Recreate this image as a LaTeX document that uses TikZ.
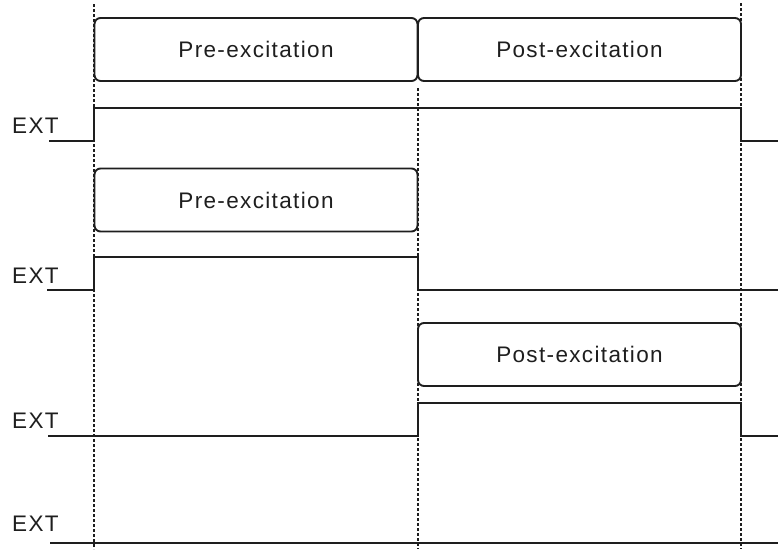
\documentclass[tikz,border=0pt]{standalone}
\usepackage{fontspec}
\setmainfont{Liberation Sans}[LetterSpace=6]
\definecolor{ink}{HTML}{1E1E1E}
\begin{document}
\begin{tikzpicture}[x=1pt,y=-1pt,
  phase/.style={draw=ink, line width=1.9pt, rounded corners=6pt, inner sep=0pt,
    minimum height=63pt, text=ink, font=\fontsize{22.5}{26}\selectfont},
  sig/.style={draw=ink, line width=1.9pt},
  guide/.style={draw=ink, line width=1.6pt, dash pattern=on 3pt off 2pt},
  lbl/.style={anchor=base west, inner sep=0pt, text=ink, font=\fontsize{22.5}{26}\selectfont}]
\useasboundingbox (0,0) rectangle (778,549);
% guide lines
\coordinate (gA1) at (94,4);   \coordinate (gA2) at (94,549);
\coordinate (gB1) at (418,88); \coordinate (gB2) at (418,549);
\coordinate (gC1) at (741,3);  \coordinate (gC2) at (741,549);
\draw[guide] (gA1) -- (gA2);
\draw[guide] (gB1) -- (gB2);
\draw[guide] (gC1) -- (gC2);
% boxes
\node[phase, minimum width=323pt] (pre1) at (256,49.5) {Pre-excitation};
\node[phase, minimum width=323pt] (post1) at (579.5,49.5) {Post-excitation};
\node[phase, minimum width=323pt] (pre2) at (256,200) {Pre-excitation};
\node[phase, minimum width=323pt] (post2) at (579.5,354.5) {Post-excitation};
% labels
\node[lbl] (e1) at (12,133) {EXT};
\node[lbl] (e2) at (12,283) {EXT};
\node[lbl] (e3) at (12,428) {EXT};
\node[lbl] (e4) at (12,531) {EXT};
% signals
\draw[sig] (49,141) -- (94,141) -- (94,108) -- (741,108) -- (741,141) -- (778,141);
\draw[sig] (47,290) -- (94,290) -- (94,257) -- (418,257) -- (418,290) -- (778,290);
\draw[sig] (48,436) -- (418,436) -- (418,403) -- (741,403) -- (741,436) -- (778,436);
\draw[sig] (50,543) -- (778,543);
\end{tikzpicture}
\end{document}
